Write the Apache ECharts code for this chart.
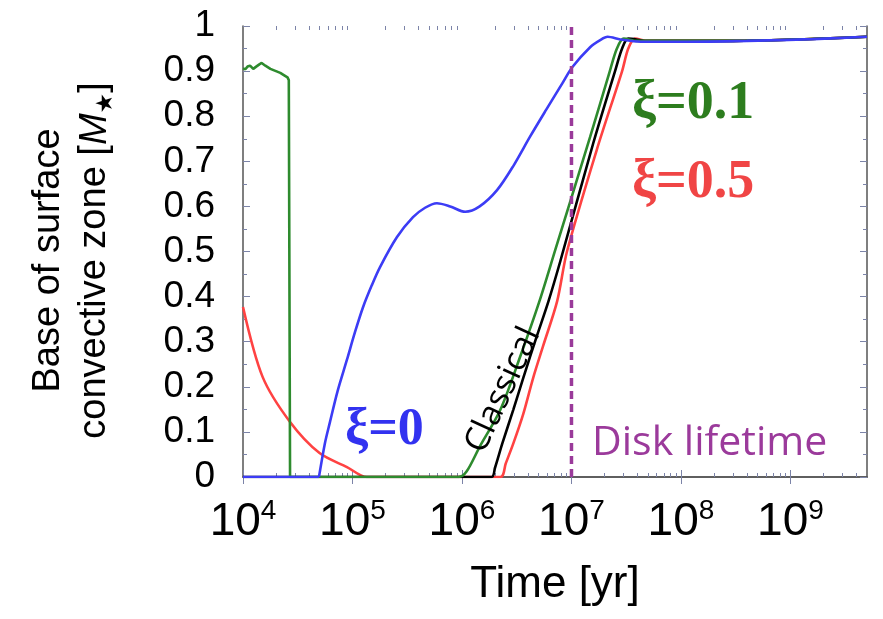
<!DOCTYPE html>
<html>
<head>
<meta charset="utf-8">
<script src="https://cdn.jsdelivr.net/npm/echarts@6/dist/echarts.min.js"></script>
<style>
  html, body { margin: 0; padding: 0; background: #fff; }
  #chart { width: 883px; height: 619px; }
</style>
</head>
<body>
<div id="chart"></div>
<script>
// ---- data (time in yr, value in M_star) ----
const xMin = 1e4;
const xMax = 5e9;
const xMajorTicks = [1e4, 1e5, 1e6, 1e7, 1e8, 1e9];
const xMinorTicks = [
  2e4, 3e4, 4e4, 5e4, 6e4, 7e4, 8e4, 9e4,
  2e5, 3e5, 4e5, 5e5, 6e5, 7e5, 8e5, 9e5,
  2e6, 3e6, 4e6, 5e6, 6e6, 7e6, 8e6, 9e6,
  2e7, 3e7, 4e7, 5e7, 6e7, 7e7, 8e7, 9e7,
  2e8, 3e8, 4e8, 5e8, 6e8, 7e8, 8e8, 9e8,
  2e9, 3e9, 4e9
];

// xi = 0 (blue): flat zero part, then the track
const timeXi0Flat = [1e4, 4.94e4];
const valXi0Flat = [0, 0];
const timeXi0 = [4.94e4, 5.6e4, 6.2e4, 7.3e4, 8.9e4, 1.05e5, 1.25e5, 1.5e5, 1.78e5,
  2.55e5, 3.57e5, 4.6e5, 5.9e5, 7.8e5, 1.07e6,
  1.45e6, 2.09e6, 2.95e6, 4.17e6, 5.9e6, 8.3e6, 1.02e7, 1.48e7, 1.86e7, 2.14e7, 2.8e7, 4.3e7,
  1e8, 4e8, 1.6e9, 5e9];
const valXi0 = [0, 0.075, 0.12, 0.19, 0.26, 0.32, 0.377, 0.425, 0.465,
  0.532, 0.576, 0.597, 0.607, 0.60, 0.588,
  0.60, 0.636, 0.69, 0.754, 0.815, 0.874, 0.909, 0.953, 0.97, 0.976, 0.97, 0.965,
  0.965, 0.967, 0.971, 0.976];

// xi = 0.1 (green), early noisy plateau then the main track
const timeXi01Early = [1e4, 1.05e4, 1.1e4, 1.16e4, 1.24e4, 1.32e4, 1.41e4, 1.48e4, 1.6e4, 1.78e4, 2.0e4,
  2.19e4, 2.4e4, 2.55e4, 2.62e4, 2.69e4, 2.69e4];
const valXi01Early = [0.906, 0.904, 0.91, 0.912, 0.905, 0.91, 0.915, 0.918, 0.912, 0.905, 0.9,
  0.896, 0.89, 0.886, 0.88, 0.884, 0];
const timeXi01 = [2.69e4, 9.3e5, 1.1e6, 1.45e6, 2.24e6, 3.39e6, 5.1e6, 7.1e6, 1.48e7, 2.24e7,
  2.6e7, 3.0e7, 4e7, 3e8, 5e9];
const valXi01 = [0, 0, 0.012, 0.067, 0.149, 0.266, 0.39, 0.503, 0.754, 0.9,
  0.95, 0.972, 0.967, 0.967, 0.976];

// classical (black)
const timeClassical = [1e4, 1.86e6, 2.0e6, 2.34e6, 2.95e6, 3.63e6, 4.79e6, 6.17e6, 7.94e6, 1.58e7,
  2.5e7, 2.9e7, 3.3e7, 5e7, 3e8, 5e9];
const valClassical = [0, 0, 0.02, 0.075, 0.15, 0.22, 0.31, 0.39, 0.48, 0.74,
  0.9, 0.95, 0.972, 0.967, 0.967, 0.976];

// xi = 0.5 (red)
const timeXi05 = [1e4, 1.51e4, 2.69e4, 5.0e4, 8.9e4, 1.35e5, 2.24e6, 2.51e6, 2.95e6, 3.63e6,
  4.47e6, 5.5e6, 7.4e6, 9.1e6, 1.7e7, 2.9e7, 3.3e7, 3.8e7, 5e7, 3e8, 5e9];
const valXi05 = [0.377, 0.222, 0.122, 0.053, 0.022, 0, 0, 0.03, 0.075, 0.14,
  0.22, 0.29, 0.39, 0.5, 0.725, 0.9, 0.95, 0.972, 0.967, 0.967, 0.976];

// disk lifetime marker
const diskTime = [1e7, 1e7];
const diskVal = [0, 1];

const zip = (xs, ys) => xs.map((x, i) => [x, ys[i]]);

const chart = echarts.init(document.getElementById('chart'));

const tickColor = '#7c84a8';
const frameColor = '#555';
const sansFont = '"Liberation Sans", Arial, sans-serif';
const serifFont = '"Liberation Serif", "Times New Roman", serif';

const logAxisBase = (pos) => ({
  type: 'log',
  logBase: 10,
  min: xMin,
  max: xMax,
  position: pos,
  gridIndex: 0,
  splitLine: { show: false },
  axisLine: { show: true, lineStyle: { color: frameColor, width: 1.5 } },
});

const lineSeries = (name, data, color, z, smooth) => ({
  name,
  type: 'line',
  data,
  showSymbol: false,
  symbol: 'none',
  smooth: smooth,
  z,
  lineStyle: { color, width: 2.6 },
  itemStyle: { color },
  animation: false,
});

chart.setOption({
  animation: false,
  grid: { left: 243, right: 16, top: 26, bottom: 142, containLabel: false },
  xAxis: [
    Object.assign(logAxisBase('bottom'), {
      name: 'Time [yr]',
      nameLocation: 'middle',
      nameGap: 86,
      nameTextStyle: { fontFamily: sansFont, fontSize: 44, color: '#000' },
      axisTick: { show: true, inside: true, length: 7, customValues: xMajorTicks, lineStyle: { color: tickColor } },
      axisLabel: {
        show: true,
        margin: 20,
        customValues: xMajorTicks,
        formatter: (v) => '{b|10}{s|' + Math.round(Math.log10(v)) + '}',
        rich: {
          b: { fontFamily: sansFont, fontSize: 46, color: '#000', lineHeight: 50 },
          s: { fontFamily: sansFont, fontSize: 28, color: '#000', lineHeight: 28, verticalAlign: 'top' },
        },
      },
    }),
    Object.assign(logAxisBase('top'), {
      axisTick: { show: true, inside: true, length: 7, customValues: xMajorTicks, lineStyle: { color: tickColor } },
      axisLabel: { show: false },
    }),
    Object.assign(logAxisBase('bottom'), {
      axisLine: { show: false },
      axisTick: { show: true, inside: true, length: 4, customValues: xMinorTicks, lineStyle: { color: tickColor } },
      axisLabel: { show: false },
    }),
    Object.assign(logAxisBase('top'), {
      axisLine: { show: false },
      axisTick: { show: true, inside: true, length: 4, customValues: xMinorTicks, lineStyle: { color: tickColor } },
      axisLabel: { show: false },
    }),
  ],
  yAxis: [
    {
      type: 'value',
      min: 0,
      max: 1,
      interval: 0.1,
      position: 'left',
      name: 'Base of surface\nconvective zone [{i|M}{s|★}]',
      nameLocation: 'middle',
      nameRotate: 90,
      nameGap: 125,
      nameTextStyle: {
        fontFamily: sansFont, fontSize: 38, color: '#000', lineHeight: 46,
        padding: [0, 18, 0, 0],
        rich: {
          i: { fontFamily: sansFont, fontSize: 38, fontStyle: 'italic', color: '#000' },
          s: { fontFamily: '"DejaVu Sans", sans-serif', fontSize: 23, color: '#000', verticalAlign: 'bottom' },
        },
      },
      splitLine: { show: false },
      axisLine: { show: true, lineStyle: { color: frameColor, width: 1.5 } },
      axisTick: { show: true, inside: true, length: 7, lineStyle: { color: tickColor } },
      minorTick: { show: true, splitNumber: 2, length: 4, lineStyle: { color: tickColor } },
      axisLabel: { fontFamily: sansFont, fontSize: 37, color: '#000', margin: 28 },
    },
    {
      type: 'value',
      min: 0,
      max: 1,
      interval: 0.1,
      position: 'right',
      splitLine: { show: false },
      axisLine: { show: true, lineStyle: { color: frameColor, width: 1.5 } },
      axisTick: { show: true, inside: true, length: 7, lineStyle: { color: tickColor } },
      minorTick: { show: true, splitNumber: 2, length: 4, lineStyle: { color: tickColor } },
      axisLabel: { show: false },
    },
  ],
  series: [
    lineSeries('xi=0.5', zip(timeXi05, valXi05), '#ff4242', 3, 0.3),
    lineSeries('Classical', zip(timeClassical, valClassical), '#000000', 4, 0.3),
    lineSeries('xi=0.1 early', zip(timeXi01Early, valXi01Early), '#2e8b2e', 5, false),
    lineSeries('xi=0.1', zip(timeXi01, valXi01), '#2e8b2e', 5, 0.3),
    lineSeries('xi=0 flat', zip(timeXi0Flat, valXi0Flat), '#3c3cf5', 6, false),
    lineSeries('xi=0', zip(timeXi0, valXi0), '#3c3cf5', 6, 0.3),
    {
      name: 'Disk lifetime',
      type: 'line',
      data: zip(diskTime, diskVal),
      showSymbol: false,
      symbol: 'none',
      z: 7,
      lineStyle: { color: '#9a3a9a', width: 3.5, type: [8, 5] },
      animation: false,
    },
  ],
  graphic: [
    {
      type: 'text', left: 345, top: 405, z: 10,
      style: { text: 'ξ=0', fontFamily: serifFont, fontWeight: 'bold', fontSize: 52, fill: '#3232f0' },
    },
    {
      type: 'text', left: 632, top: 77, z: 10,
      style: { text: 'ξ=0.1', fontFamily: serifFont, fontWeight: 'bold', fontSize: 54, fill: '#2d7d1e' },
    },
    {
      type: 'text', left: 632, top: 156, z: 10,
      style: { text: 'ξ=0.5', fontFamily: serifFont, fontWeight: 'bold', fontSize: 54, fill: '#f04545' },
    },
    {
      type: 'text', x: 592, y: 464, z: 10,
      style: { text: 'Disk lifetime', fontFamily: '"Open Sans", sans-serif', fontSize: 41, fill: '#9b3a9b',
        textAlign: 'left', textVerticalAlign: 'bottom' },
    },
    {
      type: 'text', x: 503, y: 390, z: 10, rotation: 65 * Math.PI / 180,
      style: { text: 'Classical', fontFamily: '"Open Sans", sans-serif', fontSize: 34, fill: '#000',
        textAlign: 'center', textVerticalAlign: 'middle' },
    },
  ],
});
</script>
</body>
</html>
